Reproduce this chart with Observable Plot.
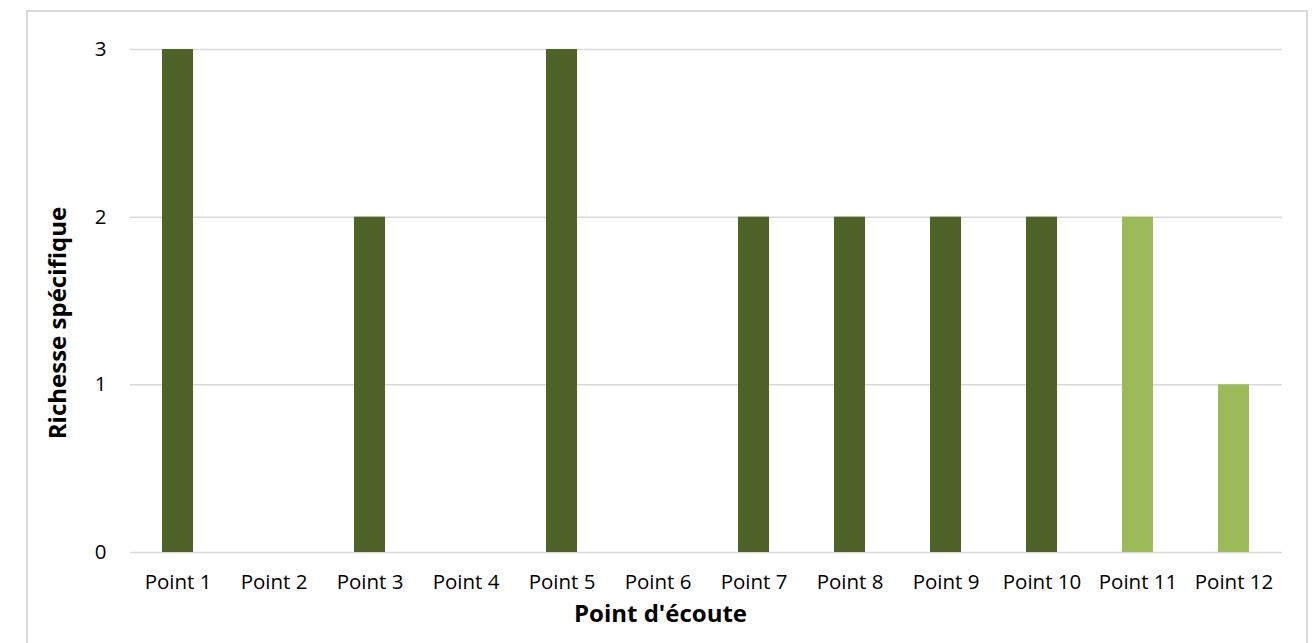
<!DOCTYPE html>
<html>
<head>
<meta charset="utf-8">
<script src="https://cdn.jsdelivr.net/npm/d3@7"></script>
<script src="https://cdn.jsdelivr.net/npm/@observablehq/plot@0.6"></script>
<style>
  html, body { margin: 0; padding: 0; background: #fff; }
  #wrap { position: relative; width: 1313px; height: 643px; overflow: hidden; }
  #border { position: absolute; left: 26px; top: 10px; width: 1282px; height: 700px;
            border: 2px solid #d9d9d9; box-sizing: border-box; }
  #chart { position: absolute; left: 0; top: 0; }
</style>
</head>
<body>
<div id="wrap">
  <div id="border"></div>
  <div id="chart"></div>
</div>
<script>
// Species richness per listening point
const points = ["Point 1", "Point 2", "Point 3", "Point 4", "Point 5", "Point 6",
                "Point 7", "Point 8", "Point 9", "Point 10", "Point 11", "Point 12"];
const richness = [3, 0, 2, 0, 3, 0, 2, 2, 2, 2, 2, 1];
const groups = ["a", "a", "a", "a", "a", "a", "a", "a", "a", "a", "b", "b"];
const yTicks = [0, 1, 2, 3];
const groupColors = { a: "#4f6228", b: "#9bbb59" };

const data = points.map((p, i) => ({ point: p, value: richness[i], group: groups[i] }));

const font = "'Open Sans', sans-serif";

const chart = Plot.plot({
  width: 1313,
  height: 643,
  marginLeft: 130,
  marginRight: 31,
  marginTop: 49,
  marginBottom: 91,
  style: { fontFamily: font, fontSize: "20px", color: "#000", background: "transparent" },
  x: { domain: points, paddingInner: 0.677, paddingOuter: 0.3385, label: null },
  y: { domain: [0, 3], label: null },
  marks: [
    Plot.gridY(yTicks, { stroke: "#d9d9d9", strokeOpacity: 1, strokeWidth: 1.5 }),
    Plot.barY(data, { x: "point", y: "value", fill: d => groupColors[d.group] }),
    Plot.axisX({ tickSize: 0, tickPadding: 22, fontSize: 20.5 }),
    Plot.axisY({ ticks: yTicks, tickSize: 0, tickPadding: 24, fontSize: 20.5, tickFormat: d3.format("d") }),
    Plot.text(["Point d'écoute"], {
      frameAnchor: "bottom", lineAnchor: "middle", dx: -46, dy: 62,
      fontSize: 24, fontWeight: "bold", fill: "#000"
    }),
    Plot.text(["Richesse spécifique"], {
      frameAnchor: "left", textAnchor: "middle", lineAnchor: "middle", dx: -72, dy: 22, rotate: -90,
      fontSize: 24, fontWeight: "bold", fill: "#000"
    })
  ]
});

document.getElementById("chart").appendChild(chart);
</script>
</body>
</html>
